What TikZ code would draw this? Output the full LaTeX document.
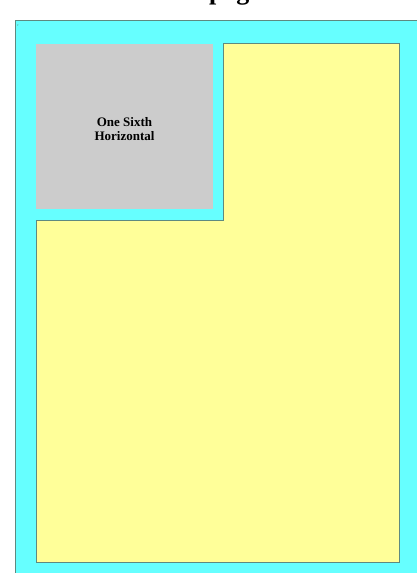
\documentclass[tikz,border=0pt]{standalone}
\usepackage{fontspec}
\setmainfont{Liberation Serif}
\definecolor{cyanbg}{HTML}{66FFFF}
\definecolor{yelbg}{HTML}{FFFF99}
\definecolor{greybg}{HTML}{CCCCCC}
\definecolor{edge}{HTML}{5E8A80}
\tikzset{
  area/.style={draw=edge, line width=1pt},
  label/.style={font=\bfseries\fontsize{13}{14}\selectfont, align=center, text=black}
}
\begin{document}
\begin{tikzpicture}[x=1pt,y=-1pt]
\useasboundingbox (0,0) rectangle (417,573);
\clip (0,0) rectangle (417,573);
\fill[white] (0,0) rectangle (417,573);
\node[font=\bfseries\fontsize{26}{28}\selectfont, anchor=base, inner sep=0pt] (title) at (235,-0.5) {page};
\draw[area, fill=cyanbg] (15,20) rectangle (430,590);
\node[font=\fontsize{4}{4}\selectfont, text=edge] (mark) at (18,26) {r};
\draw[area, fill=yelbg] (223,43) -- (399,43) -- (399,562) -- (36,562) -- (36,220) -- (223,220) -- cycle;
\fill[greybg] (36,44) rectangle (213,209);
\node[label] (txt) at (124.5,129) {One Sixth\\Horizontal};
\end{tikzpicture}
\end{document}
